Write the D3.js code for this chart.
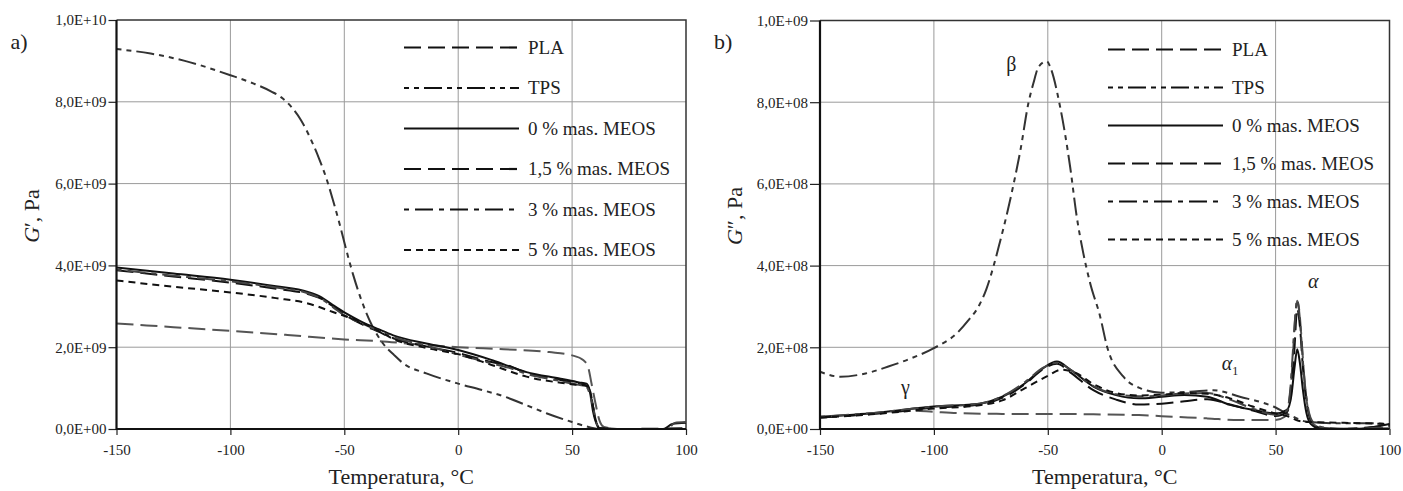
<!DOCTYPE html>
<html lang="pl">
<head>
<meta charset="UTF-8">
<title>G' i G'' - PLA/TPS</title>
<style>
  body { margin: 0; background: #fff; }
  svg text { font-family: "Liberation Serif", "DejaVu Serif", serif; fill: #222; }
  .domain { display: none; }
</style>
</head>
<body>
<svg id="svg" width="1403" height="491"></svg>
<script src="https://d3js.org/d3.v7.min.js"></script>
<script>
// seria: [temperatura °C, wartość]; G' w 1E+09 Pa, G'' w 1E+08 Pa
const seriesNames = ["PLA", "TPS", "0 % mas. MEOS", "1,5 % mas. MEOS", "3 % mas. MEOS", "5 % mas. MEOS"]
const xTicks = [-150, -100, -50, 0, 50, 100]

// a) moduł zachowawczy G'
const g1_PLA = [[-150,2.58],[-125,2.49],[-100,2.40],[-75,2.30],[-50,2.19],[-35,2.15],[-20,2.08],[-10,2.04],[0,2.0],[20,1.95],[40,1.88],[50,1.80],[55,1.68],[57,1.52],[58.5,1.12],[60,0.70],[62,0.21],[64,0.05],[70,0.0],[100,0.0]]
const g1_TPS = [[-150,9.29],[-135,9.18],[-120,9.0],[-100,8.65],[-90,8.45],[-82,8.25],[-77,8.08],[-73,7.86],[-69,7.55],[-65,7.12],[-61,6.6],[-58,6.15],[-55,5.6],[-52,5.0],[-49,4.35],[-46,3.75],[-43,3.23],[-38,2.55],[-33,2.09],[-28,1.8],[-24,1.6],[-14,1.36],[0,1.11],[10,0.96],[21,0.78],[30,0.58],[39,0.38],[50,0.17],[58,0.04],[62,0.0],[100,0.0]]
const g1_M0 = [[-150,3.95],[-125,3.80],[-100,3.65],[-80,3.49],[-66,3.35],[-60,3.22],[-55,3.03],[-50,2.85],[-43,2.64],[-35,2.44],[-28.5,2.29],[-14,2.09],[0,1.93],[15,1.68],[30,1.39],[45,1.23],[53,1.14],[56.3,1.11],[57.7,0.95],[59.1,0.46],[60.7,0.13],[62,0.02],[70,0.0],[90,0.0],[94,0.12],[100,0.15]]
const g1_M15 = [[-150,3.88],[-125,3.73],[-100,3.58],[-80,3.43],[-66,3.30],[-60,3.18],[-55,3.0],[-50,2.8],[-43,2.58],[-35,2.38],[-28.5,2.22],[-14,2.02],[0,1.86],[15,1.63],[22,1.55],[30,1.37],[45,1.2],[53,1.1],[56,1.07],[58,0.9],[60,0.3],[62,0.02],[70,0.0],[100,0.02]]
const g1_M3 = [[-150,3.9],[-125,3.75],[-100,3.61],[-80,3.46],[-66,3.32],[-60,3.18],[-55,2.98],[-50,2.78],[-43,2.6],[-35,2.4],[-28.5,2.25],[-14,2.04],[0,1.82],[15,1.6],[22,1.5],[30,1.35],[45,1.17],[53,1.08],[56,1.05],[59,0.6],[61,0.1],[63,0.0],[92,0.0],[95,0.15],[100,0.17]]
const g1_M5 = [[-150,3.63],[-125,3.48],[-100,3.34],[-80,3.2],[-66,3.07],[-55,2.86],[-43,2.62],[-35,2.4],[-28.5,2.2],[-14,1.98],[0,1.83],[15,1.56],[30,1.28],[45,1.13],[52,1.08],[56,1.06],[58,0.9],[60,0.3],[62,0.02],[70,0.0],[100,0.0]]
const g1_yTicks = [0, 2, 4, 6, 8, 10]

// b) moduł stratności G''
const g2_PLA = [[-150,0.28],[-125,0.38],[-110,0.45],[-100,0.42],[-90,0.39],[-70,0.37],[-50,0.37],[-30,0.36],[-10,0.34],[5,0.3],[20,0.26],[34,0.22],[50,0.22],[54,0.3],[55.5,0.55],[56.8,1.1],[57.8,2.0],[58.7,2.8],[59.5,3.14],[60.4,2.9],[61.4,2.2],[62.4,1.4],[63.4,0.8],[65,0.3],[67,0.1],[72,0.0],[100,0.02]]
const g2_TPS = [[-150,1.40],[-141,1.28],[-130,1.36],[-120,1.53],[-110,1.73],[-100,1.98],[-90,2.34],[-85,2.65],[-80,3.04],[-77,3.42],[-74,3.95],[-71,4.58],[-68,5.25],[-65,6.0],[-62,6.83],[-58.5,7.98],[-56.3,8.47],[-54,8.87],[-50.4,9.0],[-49,8.87],[-44.6,7.89],[-40.2,6.42],[-37.3,5.2],[-34.4,4.3],[-31.4,3.57],[-27,2.75],[-24,2.02],[-16.8,1.28],[-9.5,1.0],[0,0.89],[12.5,0.91],[22.6,0.95],[34.3,0.79],[49,0.55],[57.7,0.3],[63.6,0.18],[78,0.14],[93,0.14],[100,0.12]]
const g2_M0 = [[-150,0.3],[-125,0.4],[-100,0.55],[-80,0.62],[-70,0.79],[-60,1.12],[-52,1.49],[-46,1.65],[-40,1.45],[-30,1.04],[-20,0.83],[-10,0.75],[0,0.79],[10,0.83],[20,0.79],[30,0.59],[40,0.47],[50,0.38],[55,0.47],[57,0.85],[58.3,1.5],[59.5,1.95],[60.7,1.6],[62,0.95],[63.5,0.4],[65.5,0.12],[69,0.02],[85,0.0],[93,0.05],[100,0.12]]
const g2_M15 = [[-150,0.28],[-125,0.38],[-100,0.52],[-80,0.6],[-70,0.76],[-60,1.1],[-52,1.47],[-46,1.6],[-40,1.38],[-30,0.95],[-20,0.72],[-10,0.6],[0,0.62],[10,0.68],[20,0.73],[30,0.6],[40,0.45],[50,0.32],[55,0.42],[56.8,0.9],[58.2,1.9],[59.5,2.95],[60.7,2.5],[62,1.5],[63.5,0.7],[65.5,0.2],[68,0.05],[75,0.0],[100,0.08]]
const g2_M3 = [[-150,0.3],[-125,0.4],[-100,0.55],[-80,0.62],[-70,0.8],[-60,1.15],[-52,1.5],[-46,1.62],[-40,1.45],[-30,1.05],[-20,0.85],[-10,0.8],[0,0.82],[10,0.87],[20,0.88],[30,0.72],[40,0.5],[50,0.35],[55,0.45],[56.5,1.0],[57.7,2.0],[58.7,2.8],[59.4,3.16],[60.3,2.9],[61.3,2.2],[62.5,1.3],[64,0.6],[66,0.2],[70,0.05],[80,0.0],[100,0.05]]
const g2_M5 = [[-150,0.28],[-125,0.37],[-100,0.5],[-80,0.58],[-70,0.7],[-60,1.0],[-50,1.3],[-44,1.45],[-38,1.38],[-30,1.1],[-20,0.88],[-10,0.82],[0,0.84],[10,0.88],[20,0.86],[30,0.75],[40,0.55],[50,0.38],[56,0.3],[60,0.2],[65,0.17],[80,0.15],[95,0.13],[100,0.12]]
const g2_yTicks = [0, 2, 4, 6, 8, 10]

// opisy przejść na wykresie b): [tekst, T, G'']
const peakLabels = [["β", -66, 8.9], ["γ", -112.5, 1.0], ["α", 66.5, 3.6], ["α1", 30, 1.6]]

// styl linii dla kolejnych serii
const lineStyles = [
    { color: "#555", dash: "17,7" },
    { color: "#333", dash: "5,5,5,5,18,5" },
    { color: "#111", dash: null },
    { color: "#111", dash: "17,7" },
    { color: "#444", dash: "5,6,18,6" },
    { color: "#111", dash: "7,5" }
]

const svg = d3.select("svg#svg")

// format osi y: 1,0E+10
function sciFmt(v) {
    if (v === 0) return "0,0E+00"
    let e = Math.floor(Math.log10(v) + 1e-9)
    let m = v / Math.pow(10, e)
    return m.toFixed(1).replace(".", ",") + "E+" + String(e).padStart(2, "0")
}

function drawPanel(cfg) {
    const xScale = d3.scaleLinear().domain([-150, 100]).range([cfg.x0, cfg.x1])
    const yScale = d3.scaleLinear().domain([0, 10 * cfg.unit]).range([cfg.y1, cfg.y0])
    const g = svg.append("g")

    // siatka
    g.append("g").selectAll("line").data(xTicks.slice(1, -1)).join("line")
        .attr("x1", d => xScale(d)).attr("x2", d => xScale(d))
        .attr("y1", cfg.y0).attr("y2", cfg.y1)
        .attr("stroke", "#9a9a9a").attr("stroke-width", 1)
    g.append("g").selectAll("line").data(cfg.yTicks.slice(1, -1)).join("line")
        .attr("x1", cfg.x0).attr("x2", cfg.x1)
        .attr("y1", d => yScale(d * cfg.unit)).attr("y2", d => yScale(d * cfg.unit))
        .attr("stroke", "#9a9a9a").attr("stroke-width", 1)

    // ramka góra/prawo
    g.append("path")
        .attr("d", `M${cfg.x0},${cfg.y0}H${cfg.x1}V${cfg.y1}`)
        .attr("fill", "none").attr("stroke", "#333").attr("stroke-width", 1.5)

    // krzywe
    const line = d3.line().curve(d3.curveMonotoneX)
        .x(d => xScale(d[0])).y(d => yScale(d[1] * cfg.unit))
    cfg.series.forEach((s, i) => {
        g.append("path").datum(s)
            .attr("fill", "none")
            .attr("stroke", lineStyles[i].color)
            .attr("stroke-width", 2)
            .attr("stroke-dasharray", lineStyles[i].dash)
            .attr("d", line)
    })

    // osie
    g.append("g").attr("transform", `translate(0, ${cfg.y1})`)
        .call(d3.axisBottom(xScale).tickValues(xTicks).tickSize(6).tickPadding(9).tickFormat(d => String(d)))
    g.append("g").attr("transform", `translate(${cfg.x0}, 0)`)
        .call(d3.axisLeft(yScale).tickValues(cfg.yTicks.map(d => d * cfg.unit)).tickSize(cfg.tickLen).tickPadding(2).tickFormat(sciFmt))
    svg.selectAll(".tick text").attr("font-size", 15).attr("font-family", "Liberation Serif").attr("fill", "#222")
    svg.selectAll(".tick line").attr("stroke", "#222").attr("stroke-width", 1.2)
    g.append("path").attr("d", `M${cfg.x0},${cfg.y0}V${cfg.y1}H${cfg.x1}`)
        .attr("fill", "none").attr("stroke", "#111").attr("stroke-width", 2.2)

    // tytuły osi
    g.append("text").attr("x", (cfg.x0 + cfg.x1) / 2).attr("y", 484)
        .attr("text-anchor", "middle").attr("font-size", 22).text("Temperatura, °C")
    const yt = g.append("text").attr("transform", `translate(${cfg.x0 - 78}, 216) rotate(-90)`)
        .attr("text-anchor", "middle").attr("font-size", 22)
    yt.append("tspan").attr("font-style", "italic").text("G")
    yt.append("tspan").text(cfg.prime + ", Pa")
    g.append("text").attr("x", cfg.x0 - 106).attr("y", 49).attr("font-size", 22).text(cfg.tag)

    // legenda
    const lg = g.append("g")
    cfg.series.forEach((s, i) => {
        const yy = cfg.legY + i * cfg.legStep
        lg.append("line").attr("x1", cfg.legX).attr("x2", cfg.legX + 115)
            .attr("y1", yy).attr("y2", yy)
            .attr("stroke", "#111").attr("stroke-width", 2.2)
            .attr("stroke-dasharray", lineStyles[i].dash)
        lg.append("text").attr("x", cfg.legX + 124).attr("y", yy + 6)
            .attr("font-size", 19).text(seriesNames[i])
    })
    return { xScale, yScale, g }
}

drawPanel({
    x0: 116.5, x1: 686, y0: 20, y1: 429, unit: 1e9, tickLen: 8, prime: "′",
    tag: "a)", yTicks: g1_yTicks, legX: 404, legY: 47.5, legStep: 40.5,
    series: [g1_PLA, g1_TPS, g1_M0, g1_M15, g1_M3, g1_M5]
})

const pb = drawPanel({
    x0: 820, x1: 1389.5, y0: 20.5, y1: 429, unit: 1e8, tickLen: 10, prime: "″",
    tag: "b)", yTicks: g2_yTicks, legX: 1108, legY: 49.5, legStep: 38,
    series: [g2_PLA, g2_TPS, g2_M0, g2_M15, g2_M3, g2_M5]
})

// opisy pików
peakLabels.forEach(p => {
    const t = pb.g.append("text")
        .attr("x", pb.xScale(p[1])).attr("y", pb.yScale(p[2] * 1e8) + 6)
        .attr("text-anchor", "middle").attr("font-size", 20).attr("fill", "#333")
    if (p[0] === "α1") {
        t.append("tspan").attr("font-style", "italic").text("α")
        t.append("tspan").attr("font-size", 12).attr("dy", 5).text("1")
    } else {
        t.attr("font-style", p[0] === "α" ? "italic" : "normal").text(p[0])
    }
})
</script>
</body>
</html>
